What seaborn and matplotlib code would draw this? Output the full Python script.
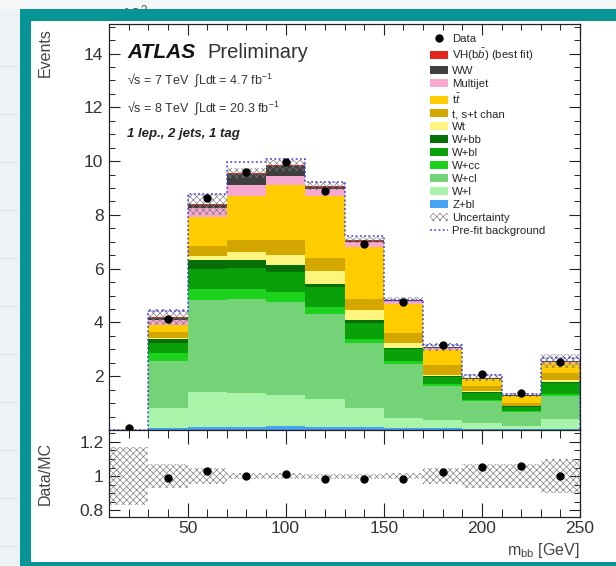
import numpy as np
import pandas as pd
import matplotlib
matplotlib.use("Agg")
import matplotlib.pyplot as plt
import seaborn as sns
from matplotlib.patches import Rectangle, Patch
from matplotlib.lines import Line2D

# ---------------- data (x10^3 events) ----------------
bin_edges = [10, 30, 50, 70, 90, 110, 130, 150, 170, 190, 210, 230, 250]
bin_centers = [20, 40, 60, 80, 100, 120, 140, 160, 180, 200, 220, 240]

z_bl     = [0, .08, .10, .12, .15, .12, .10, .08, .06, .04, .03, .04]
w_l      = [0, .72, 1.31, 1.25, 1.16, 1.03, .73, .36, .32, .22, .11, .36]
w_cl     = [0, 1.78, 3.42, 3.49, 3.46, 3.18, 2.39, 2.02, 1.24, .80, .53, .85]
w_cc     = [0, .30, .43, .40, .37, .25, .18, .10, .08, .06, .05, .10]
w_bl     = [0, .37, .74, .76, .74, .74, .58, .44, .28, .25, .14, .39]
w_bb     = [0, .13, .31, .29, .27, .12, .10, .06, .04, .03, .02, .06]
wt       = [0, .05, .18, .31, .37, .46, .37, .16, .04, .04, .03, .06]
single_t = [0, .20, .37, .43, .53, .50, .43, .37, .36, .18, .11, .25]
ttbar    = [0, .27, 1.05, 1.67, 2.06, 2.32, 1.92, 1.11, .56, .26, .23, .37]
multijet = [0, .18, .34, .39, .35, .23, .18, .10, .07, .03, .03, .05]
ww       = [0, .08, .12, .42, .35, .10, .06, .04, .03, .02, .01, .02]
vh       = [0, .03, .02, .04, .03, .03, .03, .01, .01, .01, .01, .01]

data_vals = [0.06, 4.12, 8.62, 9.60, 9.95, 8.88, 6.93, 4.77, 3.16, 2.07, 1.37, 2.54]
ratio_vals = [np.nan, 0.99, 1.03, 1.0, 1.015, 0.98, 0.98, 0.985, 1.025, 1.055, 1.06, 1.0]
rel_unc = [0.17, 0.07, 0.045, 0.02, 0.02, 0.015, 0.015, 0.02, 0.045, 0.07, 0.07, 0.10]
prefit_vals = [0, 4.42, 8.78, 9.95, 10.07, 9.21, 7.20, 4.85, 3.15, 2.05, 1.33, 2.68]

process_labels = ["VH(b$\\bar{b}$) (best fit)", "WW", "Multijet", "t$\\bar{t}$",
                  "t, s+t chan", "Wt", "W+bb", "W+bl", "W+cc", "W+cl", "W+l", "Z+bl"]
process_values = [vh, ww, multijet, ttbar, single_t, wt, w_bb, w_bl, w_cc, w_cl, w_l, z_bl]
process_colors = ["#e3261c", "#3f3f3f", "#f7a8cf", "#ffcc00", "#d4a600", "#fdf57e",
                  "#076f07", "#0aa00a", "#1dd21d", "#74d277", "#a8f4a8", "#45a3f2"]

# ---------------- style ----------------
sns.set_style("ticks")
plt.rcParams["font.family"] = ["Liberation Sans", "DejaVu Sans"]
plt.rcParams["mathtext.fontset"] = "custom"
plt.rcParams["mathtext.rm"] = "Liberation Sans"
plt.rcParams["mathtext.it"] = "Liberation Sans:italic"
plt.rcParams["mathtext.bf"] = "Liberation Sans:bold"
plt.rcParams["hatch.linewidth"] = 0.45

W, H = 616, 566
fig = plt.figure(figsize=(W / 100, H / 100), dpi=100)
fig.patch.set_facecolor("white")

def fx(px):
    return px / W

def fy(py):
    return 1 - py / H

ax = fig.add_axes([fx(109), fy(430), fx(580) - fx(109), fy(24) - fy(430)])
axr = fig.add_axes([fx(109), fy(517), fx(580) - fx(109), fy(430) - fy(517)])

# ---------------- main stack ----------------
rows = []
for lab, vals in zip(process_labels, process_values):
    for c, v in zip(bin_centers, vals):
        rows.append({"m": c, "w": v, "process": lab})
df = pd.DataFrame(rows)
palette = dict(zip(process_labels, process_colors))

sns.histplot(data=df, x="m", weights="w", hue="process", hue_order=process_labels,
             multiple="stack", bins=bin_edges, element="step", fill=True, alpha=1,
             linewidth=0, palette=palette, legend=False, ax=ax)

hatch_col = "#777777"
mc_total = np.sum(np.array(process_values), axis=0)
unc = np.array(rel_unc)
ax.stairs(mc_total * (1 + unc), bin_edges, baseline=mc_total * (1 - unc), fill=True,
          facecolor="none", edgecolor=hatch_col, hatch="xxxxx", linewidth=0, zorder=5)
ax.stairs(prefit_vals, bin_edges, baseline=0, color="#3a3af0", linestyle=(0, (1.2, 1.6)),
          linewidth=1.1, zorder=6)
sns.scatterplot(x=bin_centers, y=data_vals, color="black", s=36, edgecolor="black",
                linewidth=0, zorder=7, ax=ax, legend=False)

ax.set_xlim(10, 250)
ax.set_ylim(0, 15.1)
ax.set_yticks([2, 4, 6, 8, 10, 12, 14])
ax.set_yticks(np.arange(0.5, 15.1, 0.5), minor=True)
ax.set_xticks([50, 100, 150, 200, 250])
ax.set_xticks(np.arange(10, 251, 10), minor=True)
ax.set_xticklabels([])
ax.set_xlabel("")
ax.set_ylabel("")

# ---------------- ratio ----------------
axr.stairs(1 + unc, bin_edges, baseline=1 - unc, fill=True, facecolor="none",
           edgecolor=hatch_col, hatch="xxxxx", linewidth=0, zorder=2)
sns.scatterplot(x=bin_centers, y=ratio_vals, color="black", s=36, edgecolor="black",
                linewidth=0, zorder=5, ax=axr, legend=False)
axr.set_xlim(10, 250)
axr.set_ylim(0.76, 1.27)
axr.set_yticks([0.8, 1.0, 1.2])
axr.set_yticklabels(["0.8", "1", "1.2"])
axr.set_yticks(np.arange(0.8, 1.26, 0.05), minor=True)
axr.set_xticks([50, 100, 150, 200, 250])
axr.set_xticklabels(["50", "100", "150", "200", "250"])
axr.set_xticks(np.arange(10, 251, 10), minor=True)
axr.set_xlabel("")
axr.set_ylabel("")

for a in (ax, axr):
    for s in a.spines.values():
        s.set_visible(True)
        s.set_linewidth(0.9)
        s.set_color("#222222")
    a.tick_params(which="both", direction="in", top=True, right=True, colors="#222222",
                  labelcolor="#333333", labelsize=12.5)
    a.tick_params(which="major", length=8, width=0.8)
    a.tick_params(which="minor", length=4, width=0.7)
    a.tick_params(axis="y", pad=4)
    a.tick_params(axis="x", pad=3)
    a.set_facecolor("white")
axr.tick_params(axis="x", which="major", length=10)
axr.tick_params(axis="x", which="minor", length=6)

# ---------------- texts ----------------
ax.text(fx(127), fy(52), "ATLAS", transform=fig.transFigure, fontsize=15,
        fontweight="bold", fontstyle="italic", va="center", ha="left", color="#111111")
ax.text(fx(207), fy(52), "Preliminary", transform=fig.transFigure, fontsize=14.5,
        va="center", ha="left", color="#333333")
ax.text(fx(127), fy(80), "√s = 7 TeV  ∫Ldt = 4.7 fb$^{-1}$", transform=fig.transFigure,
        fontsize=9, va="center", ha="left", color="#333333")
ax.text(fx(127), fy(108), "√s = 8 TeV  ∫Ldt = 20.3 fb$^{-1}$", transform=fig.transFigure,
        fontsize=9, va="center", ha="left", color="#333333")
ax.text(fx(127), fy(134), "1 lep., 2 jets, 1 tag", transform=fig.transFigure,
        fontsize=9.5, fontweight="bold", fontstyle="italic", va="center", ha="left",
        color="#222222")

fig.text(fx(45), fy(28), "Events", rotation=90, ha="center", va="top", fontsize=11.5,
         color="#444444")
fig.text(fx(45), fy(473), "Data/MC", rotation=90, ha="center", va="center", fontsize=11.5,
         color="#444444")
fig.text(fx(580), fy(551), "m$_{\\mathrm{bb}}$ [GeV]", ha="right", va="center",
         fontsize=11.5, color="#444444")
fig.text(fx(112), fy(13), "×10$^{3}$", ha="left", va="center", fontsize=12,
         color="#555555", zorder=1)

# ---------------- legend ----------------
handles = [Line2D([], [], marker="o", color="black", linestyle="none", markersize=5)]
labels = ["Data"]
for lab, col in zip(process_labels, process_colors):
    handles.append(Patch(facecolor=col, edgecolor="none"))
    labels.append(lab)
handles.append(Patch(facecolor="white", edgecolor=hatch_col, hatch="xxxxx", linewidth=0))
labels.append("Uncertainty")
handles.append(Line2D([], [], color="#3a3af0", linestyle=(0, (1.2, 1.6)), linewidth=1.1))
labels.append("Pre-fit background")
fig.legend(handles, labels, loc="upper left", bbox_to_anchor=(fx(430), fy(34)),
           frameon=False, fontsize=8.2, handlelength=1.6, handleheight=0.7,
           handletextpad=0.35, labelspacing=0.26, borderpad=0, borderaxespad=0)

# ---------------- screenshot frame ----------------
fig.patches.append(Rectangle((0, 0), fx(20), 1, transform=fig.transFigure,
                             facecolor="#eef2f5", edgecolor="none", zorder=-5))
fig.patches.append(Rectangle((0, fy(9)), 1, fy(0) - fy(9), transform=fig.transFigure,
                             facecolor="#f5f7f9", edgecolor="none", zorder=-5))
for yy in [66, 114, 162, 210, 258, 306, 354, 402, 450, 498, 546]:
    fig.add_artist(Line2D([0, fx(20)], [fy(yy), fy(yy)], transform=fig.transFigure,
                          color="#dfe5ea", linewidth=0.8, zorder=-4))
teal = "#079494"
fig.patches.append(Rectangle((fx(20), 0), fx(31) - fx(20), fy(9), transform=fig.transFigure,
                             facecolor=teal, edgecolor="none", zorder=20))
fig.patches.append(Rectangle((fx(20), fy(21)), 1 - fx(20), fy(9) - fy(21),
                             transform=fig.transFigure, facecolor=teal, edgecolor="none",
                             zorder=20))
fig.patches.append(Rectangle((fx(20), 0), 1 - fx(20), fy(562), transform=fig.transFigure,
                             facecolor=teal, edgecolor="none", zorder=20))

fig.savefig("out.png", dpi=100)
